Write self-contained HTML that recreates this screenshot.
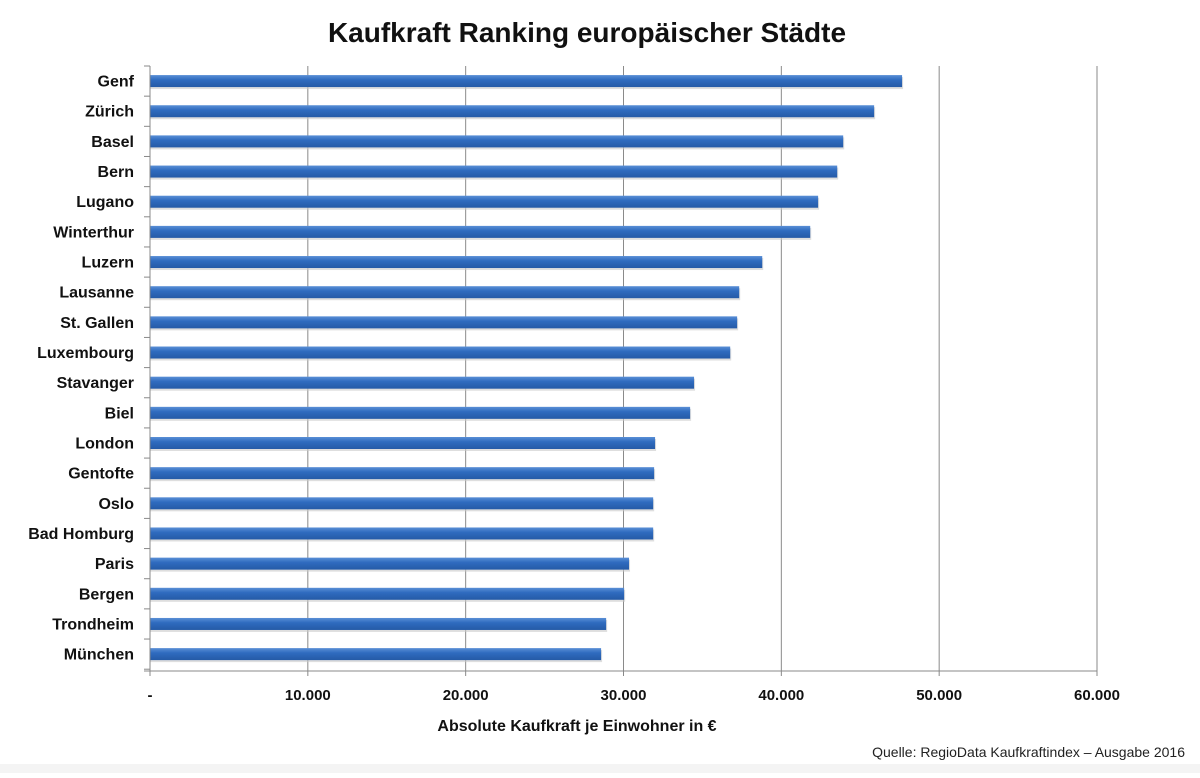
<!DOCTYPE html>
<html><head><meta charset="utf-8"><style>
body{margin:0;width:1200px;height:773px;background:#fff;overflow:hidden;font-family:"Liberation Sans",sans-serif}
</style></head><body>
<svg width="1200" height="773">
<defs><linearGradient id="g" x1="0" y1="0" x2="0" y2="1"><stop offset="0" stop-color="#5a8fd6"/><stop offset="0.4" stop-color="#2f6bbf"/><stop offset="1" stop-color="#255aa6"/></linearGradient></defs>
<rect x="0" y="764" width="1200" height="9" fill="#f4f4f4"/>
<text x="587" y="42" text-anchor="middle" font-size="28" font-weight="bold" fill="#111">Kaufkraft Ranking europäischer Städte</text>
<g id="grid"></g><g id="bars"></g><g id="labels"></g>
<line x1="150" y1="66" x2="150" y2="671" stroke="#888"/>
<line x1="144" y1="671" x2="1097" y2="671" stroke="#888"/>
<text x="577" y="731" text-anchor="middle" font-size="16" font-weight="bold" fill="#111">Absolute Kaufkraft je Einwohner in €</text>
<text x="1185" y="757" text-anchor="end" font-size="14" fill="#222">Quelle: RegioData Kaufkraftindex – Ausgabe 2016</text>
</svg>
<script>
const cities=["Genf","Zürich","Basel","Bern","Lugano","Winterthur","Luzern","Lausanne","St. Gallen","Luxembourg","Stavanger","Biel","London","Gentofte","Oslo","Bad Homburg","Paris","Bergen","Trondheim","München"];
const values=[47650,45880,43920,43540,42330,41830,38790,37330,37200,36760,34470,34220,32000,31940,31880,31880,30350,30040,28900,28580];
const ticks=[0,10000,20000,30000,40000,50000,60000];
const tickLabels=["-","10.000","20.000","30.000","40.000","50.000","60.000"];
const NS="http://www.w3.org/2000/svg";
const x=v=>150+v/60000*947;
const rowH=30.16, y0=66;
const yc=i=>y0+rowH*(i+0.5);
function mk(t,a,p){const e=document.createElementNS(NS,t);for(const k in a)e.setAttribute(k,a[k]);p.appendChild(e);return e;}
const G=document.getElementById('grid'),B=document.getElementById('bars'),L=document.getElementById('labels');
ticks.forEach((t,i)=>{
 if(t>0){const l=mk('line',{x1:x(t),y1:66,x2:x(t),y2:671,stroke:'#8a8a8a','stroke-width':1},G);
 
 }
 const tk=mk('line',{x1:x(t),y1:671,x2:x(t),y2:676,stroke:'#888'},G);
 
 
 const tx=mk('text',{x:x(t),y:700,'text-anchor':'middle','font-size':15,'font-weight':'bold',fill:'#111'},L);
 tx.textContent=tickLabels[i];
 
 
});
for(let i=0;i<=cities.length;i++){
 const tk=mk('line',{x1:144,y1:y0+rowH*i,x2:150,y2:y0+rowH*i,stroke:'#888'},G);
 
 
}
cities.forEach((c,i)=>{
 const sh=mk('rect',{x:150,y:yc(i)-4,width:x(values[i])-150+1,height:12,fill:'#c8c8c8',opacity:0.6},B);
 
 
 const r=mk('rect',{x:150,y:yc(i)-6,width:x(values[i])-150,height:12,fill:'url(#g)'},B);
 
 
 const t=mk('text',{x:134,y:yc(i)+5.5,'text-anchor':'end','font-size':16,'font-weight':'bold',fill:'#111'},L);
 t.textContent=c;
 
 
});
</script>
</body></html>
